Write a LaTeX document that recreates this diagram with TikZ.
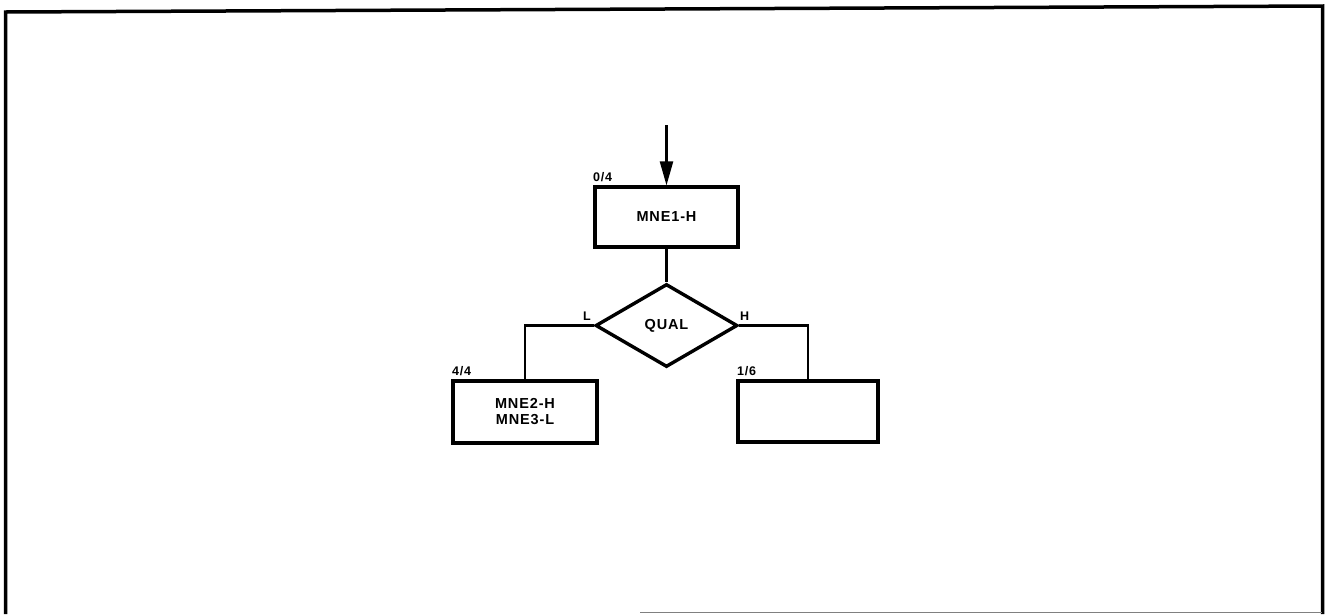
\documentclass[tikz,border=0pt]{standalone}
\usepackage{fontspec}
\setmainfont{Liberation Sans}
\newfontfamily\labfont[LetterSpace=6]{Liberation Sans}
\newfontfamily\tagfont[LetterSpace=6]{Liberation Sans}
\usetikzlibrary{shapes.geometric,arrows.meta}
\tikzset{
  box/.style={draw,line width=3.2pt,inner sep=0pt,align=center,font=\labfont\bfseries\fontsize{14.5}{16}\selectfont},
  qual/.style={draw,diamond,line width=3.4pt,inner sep=0pt,font=\labfont\bfseries\fontsize{14.5}{16}\selectfont},
  conn/.style={line width=2.3pt},
  tag/.style={inner sep=0pt,font=\tagfont\bfseries\fontsize{12.5}{13}\selectfont},
  frame/.style={line width=3.5pt}
}
\begin{document}
\begin{tikzpicture}[x=1pt,y=-1pt]
\useasboundingbox (0,0) rectangle (1325,614);
% frame
\coordinate (f1) at (5.5,614);
\coordinate (f2) at (5.5,12);
\coordinate (f3) at (1322.5,6);
\coordinate (f4) at (1322.5,614);
\draw[frame] (f1) -- (f2) -- (f3) -- (f4);
\coordinate (g1) at (640,612.5);
\coordinate (g2) at (1322,612.5);
\draw[gray,line width=1pt] (g1) -- (g2);
% nodes
\node[box,minimum width=143pt,minimum height=60pt] (top) at (666.5,217) {MNE1-H};
\node[qual,minimum width=142pt,minimum height=83pt] (q) at (666.5,325.5) {QUAL};
\node[box,minimum width=144pt,minimum height=62pt] (lb) at (525,412) {MNE2-H\\MNE3-L};
\node[box,minimum width=140pt,minimum height=61pt] (rb) at (808,411.5) {};
% tags
\node[tag,anchor=south west] (t1) at (593,182) {0/4};
\node[tag,anchor=south west] (t2) at (452,376) {4/4};
\node[tag,anchor=south west] (t3) at (737,376) {1/6};
\node[tag,anchor=south east] (tl) at (591,321) {L};
\node[tag,anchor=south west] (th) at (740,321) {H};
% connectors
\coordinate (in) at (666.5,125);
\draw[conn,-{Triangle[length=24pt,width=13pt]}] (in) -- (top.north);
\draw[conn] (top.south) -- (q.north);
\draw[conn] (q.west) -| (lb.north);
\draw[conn] (q.east) -| (rb.north);
\end{tikzpicture}
\end{document}
